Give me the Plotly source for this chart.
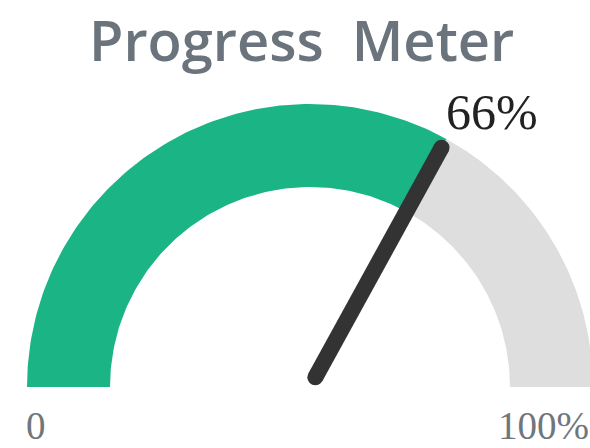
import numpy as np
import plotly.graph_objects as go

# gauge data
title = "Progress\u2002Meter"
value = 66
min_value = 0
max_value = 100
min_label = "0"
max_label = "100%"
value_label = "66%"

# geometry in screen pixels (y grows downward)
W, H = 590, 448
CX, CY = 310, 387
R_OUT, R_IN = 283, 200
NEEDLE_START, NEEDLE_END = 11, 273


def value_to_angle(v):
    frac = (v - min_value) / (max_value - min_value)
    return np.pi * (1 - frac)


def band(v0, v1, n=120):
    a = np.linspace(value_to_angle(v0), value_to_angle(v1), n)
    xs = np.concatenate([CX + R_OUT * np.cos(a), CX + R_IN * np.cos(a[::-1])])
    ys = np.concatenate([CY - R_OUT * np.sin(a), CY - R_IN * np.sin(a[::-1])])
    return np.append(xs, xs[0]), np.append(ys, ys[0])


def main():
    fig = go.Figure()

    gx, gy = band(value, max_value)
    fig.add_trace(go.Scatter(x=gx, y=gy, fill="toself", fillcolor="#dedede",
                             mode="lines", line_width=0, hoverinfo="skip"))
    px_, py_ = band(min_value, value)
    fig.add_trace(go.Scatter(x=px_, y=py_, fill="toself", fillcolor="#1bb585",
                             mode="lines", line_width=0, hoverinfo="skip"))

    a = value_to_angle(value)
    nx = [CX + NEEDLE_START * np.cos(a), CX + NEEDLE_END * np.cos(a)]
    ny = [CY - NEEDLE_START * np.sin(a), CY - NEEDLE_END * np.sin(a)]
    fig.add_trace(go.Scatter(x=nx, y=ny, mode="lines+markers",
                             line=dict(color="#333333", width=16),
                             marker=dict(color="#333333", size=16),
                             hoverinfo="skip"))

    fig.add_annotation(x=301, y=0, text=title, showarrow=False,
                       xanchor="center", yanchor="top", borderpad=0,
                       font=dict(family="Open Sans", size=56, color="#6b747c",
                                 weight=600))
    fig.add_annotation(x=492, y=112, text=value_label, showarrow=False,
                       xanchor="center", yanchor="middle",
                       font=dict(family="Liberation Serif", size=50, color="#222222"))
    fig.add_annotation(x=25, y=H, text=min_label, showarrow=False,
                       xanchor="left", yanchor="bottom", borderpad=0,
                       font=dict(family="Liberation Serif", size=39, color="#6f767c"))
    fig.add_annotation(x=W, y=H, text=max_label, showarrow=False,
                       xanchor="right", yanchor="bottom", borderpad=0,
                       font=dict(family="Liberation Serif", size=39, color="#6f767c"))

    fig.update_xaxes(range=[0, W], visible=False, fixedrange=True)
    fig.update_yaxes(range=[H, 0], visible=False, fixedrange=True)
    fig.update_layout(
        width=W,
        height=H,
        margin=dict(l=0, r=0, t=0, b=0),
        showlegend=False,
        plot_bgcolor="white",
        paper_bgcolor="white",
    )
    # drop the default page margin so the figure fills the window
    fig.write_html(
        "out.html",
        config={"displayModeBar": False},
        post_script="document.body.style.margin='0';"
                    "document.body.style.overflow='hidden';",
    )


if __name__ == "__main__":
    main()
